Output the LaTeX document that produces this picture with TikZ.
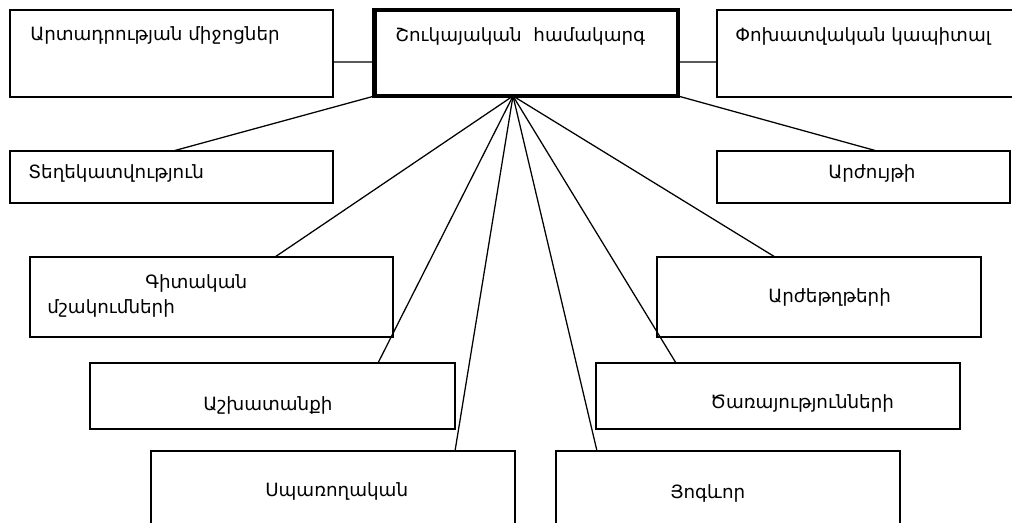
\documentclass[tikz,border=0pt]{standalone}
\usepackage{fontspec}
\setmainfont{DejaVu Sans}
\usetikzlibrary{calc, fit}

\begin{document}
\begin{tikzpicture}[x=0.025cm, y=-0.025cm,
    box/.style={draw, line width=1.1pt, inner sep=0pt, outer sep=0pt},
    sysbox/.style={box, line width=3.5pt},
    txt/.style={anchor=base west, inner sep=0pt, font=\fontsize{13}{15}\selectfont},
    link/.style={line width=0.9pt}]
    \useasboundingbox (0,0) rectangle (1012,522);
    \clip (0,0) rectangle (1012,522);
    \node[box, fit={(10,10) (333,97)}] (b1) {};
    \node[sysbox, fit={(374.5,10) (678,96)}] (sys) {};
    \node[box, fit={(717,10) (1040,97)}] (b3) {};
    \node[box, fit={(10,151) (333,203)}] (b4) {};
    \node[box, fit={(717,151) (1010,203)}] (b5) {};
    \node[box, fit={(30,257) (393,337)}] (b6) {};
    \node[box, fit={(657,257) (981,337)}] (b7) {};
    \node[box, fit={(90,363) (455,429)}] (b8) {};
    \node[box, fit={(596,363) (960,429)}] (b9) {};
    \node[box, fit={(151,451) (515,545)}] (b10) {};
    \node[box, fit={(556,451) (900,545)}] (b11) {};
    \node[txt] (t1) at (30,40) {Արտադրության միջոցներ};
    \node[txt] (tsys) at (395,41) {Շուկայական\ \ համակարգ};
    \node[txt] (t3) at (735,41) {Փոխատվական կապիտալ};
    \node[txt] (t4) at (28,178) {Տեղեկատվություն};
    \node[txt] (t5) at (828,178) {Արժույթի};
    \node[txt] (t6a) at (145,288) {Գիտական};
    \node[txt] (t6b) at (47,313) {մշակումների};
    \node[txt] (t7) at (768,302) {Արժեթղթերի};
    \node[txt] (t8) at (203,410) {Աշխատանքի};
    \node[txt] (t9) at (710,408) {Ծառայությունների};
    \node[txt] (t10) at (265,496) {Սպառողական};
    \node[txt] (t11) at (670,498) {Յոգևոր};
    \coordinate (hub) at ($(sys.south west)+(138.5,0)$);
    \draw[link] ($(b1.north east)+(0,52)$) -- ($(sys.north west)+(0,52)$);
    \draw[link] ($(sys.north east)+(0,52)$) -- ($(b3.north west)+(0,52)$);
    \draw[link] (sys.south west) -- ($(b4.north west)+(163,0)$);
    \draw[link] (sys.south east) -- ($(b5.north west)+(160,0)$);
    \foreach \b/\dx in {b6/245, b8/288, b10/304, b11/41, b9/80, b7/118}
        \draw[link] (hub) -- ($(\b.north west)+(\dx,0)$);
\end{tikzpicture}
\end{document}
